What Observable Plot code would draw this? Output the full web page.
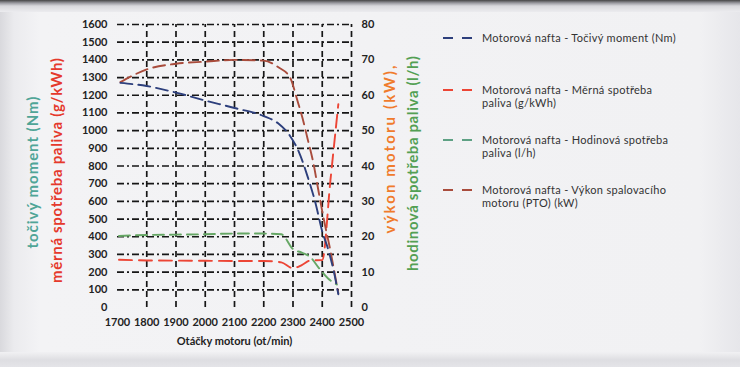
<!DOCTYPE html>
<html><head><meta charset="utf-8">
<script src="https://cdn.jsdelivr.net/npm/d3@7"></script>
<script src="https://cdn.jsdelivr.net/npm/@observablehq/plot@0.6"></script>
<style>
html,body{margin:0;padding:0;}
#wrap{position:relative;width:740px;height:367px;overflow:hidden;
 background:linear-gradient(90deg,#d9d9dd 0px,#ebebee 14px,#f3f3f5 40px,#f1f1f3 700px,#e6e6ea 740px);
 font-family:Lato,"Open Sans",sans-serif;}
#topband{position:absolute;left:0;top:0;width:740px;height:12px;background:linear-gradient(180deg,#444 0px,#9a9aa0 3px,#d8d8dc 6px,#ececef 12px);}
#botband{position:absolute;left:0;top:352px;width:740px;height:15px;background:linear-gradient(180deg,#f1f1f3 0px,#dedee2 8px,#e4e4e8 15px);}
#legend{position:absolute;left:0;top:0;width:740px;height:367px;pointer-events:none;}
.lg{position:absolute;left:482px;font-size:11px;letter-spacing:0.3px;line-height:13px;color:#333;white-space:nowrap;}
svg.plot{position:absolute;left:0;top:0;}
</style></head><body>
<div id="wrap"><div id="topband"></div><div id="botband"></div><div id="chart"></div><div id="legend"></div></div>
<script>
// ----- data -----
const xTicks = [1700,1800,1900,2000,2100,2200,2300,2400,2500];
const leftTicks = [0,100,200,300,400,500,600,700,800,900,1000,1100,1200,1300,1400,1500,1600];
const rightTicks = [0,10,20,30,40,50,60,70,80];

const torqueRpm = [1710,1800,1900,2000,2100,2200,2250,2290,2320,2350,2377,2400,2420,2440,2455];
const torqueNm  = [1270,1252,1215,1170,1128,1082,1040,970,880,740,590,430,330,200,75];

const sfcRpm   = [1705,1800,1900,2000,2100,2200,2260,2300,2330,2360,2400,2428,2455];
const sfcGkWh  = [270,266,265,264,263,263,255,222,240,266,268,720,1150];

const fuelRpm  = [1705,1800,1900,2000,2100,2200,2260,2300,2330,2360,2390,2420,2450];
const fuelLh   = [20.2,20.5,20.6,20.7,20.9,20.9,20.7,16.5,15.5,14.2,11,8.2,6.5];

const powerRpm = [1710,1800,1900,2000,2100,2200,2250,2290,2315,2332,2349,2370,2387,2404,2428,2445,2455];
const powerKw  = [63.7,67.3,68.9,69.5,70,69.8,67.9,65,58.5,53.7,48,40.7,33,25.5,16,8.5,4];

const legendLabels = [
  ["Motorová nafta - Točivý moment (Nm)"],
  ["Motorová nafta -  Měrná spotřeba", "paliva (g/kWh)"],
  ["Motorová nafta - Hodinová spotřeba", "paliva  (l/h)"],
  ["Motorová nafta - Výkon spalovacího", "motoru (PTO) (kW)"]
];
const colors = {torque:"#2d3f7c", sfc:"#ec4535", fuel:"#66a765", power:"#a94c3c"};
const legendColors = ["#2d3f7c","#ec4535","#5ea184","#a94c3c"];

// right axis (kW, l/h) shares the left scale: 80 ↔ 1600
const ratio = 1600 / 80;

const toRows = (xs, ys, k=1) => xs.map((x,i)=>({x, y: ys[i]*k}));
const torque = toRows(torqueRpm, torqueNm);
const sfc = toRows(sfcRpm, sfcGkWh);
const fuel = toRows(fuelRpm, fuelLh, ratio);
const power = toRows(powerRpm, powerKw, ratio);

const hGrid = leftTicks.filter(t => t > 0);
const vGrid = xTicks.filter(t => t > 1700);

const grid = "#161616";
const lineOpts = (c, dash) => ({x:"x", y:"y", stroke:c, strokeWidth:1.9, strokeDasharray:dash, curve:"monotone-x"});
const titleOpts = (fill, dx, dy, anchor, cls) => ({text:d=>d, frameAnchor:anchor, dx, dy, rotate:-90, textAnchor:"middle", lineAnchor:"middle", fill, fontSize:15, fontWeight:"bold", className:cls});

const chart = Plot.plot({
  width:740, height:367,
  marginLeft:117, marginRight:389, marginTop:24, marginBottom:60,
  style:{background:"transparent", fontFamily:"Lato, 'Open Sans', sans-serif"},
  x:{domain:[1700,2500]},
  y:{domain:[0,1600]},
  marks:[
    Plot.ruleY(hGrid, {x1:1700, x2:2500, stroke:grid, strokeWidth:1.7, strokeDasharray:"7,3,2,3"}),
    Plot.ruleX(vGrid, {y1:0, y2:1600, stroke:grid, strokeWidth:1.7, strokeDasharray:"6,4"}),
    Plot.axisX(xTicks, {tickSize:0, tickPadding:11, fontSize:11, fontWeight:"bold", fill:"#222", label:null, tickFormat:d=>String(d)}),
    Plot.axisY(leftTicks, {anchor:"left", tickSize:0, tickPadding:10, fontSize:11, fontWeight:"bold", fill:"#222", label:null, tickFormat:d=>String(d)}),
    Plot.axisY(rightTicks.map(t => t*ratio), {anchor:"right", tickSize:0, tickPadding:10, fontSize:11, fontWeight:"bold", fill:"#222", label:null, tickFormat: d => String(d/ratio)}),
    Plot.line(fuel, lineOpts(colors.fuel, "11,6")),
    Plot.line(sfc, lineOpts(colors.sfc, "13,7")),
    Plot.line(power, lineOpts(colors.power, "12,6")),
    Plot.line(torque, lineOpts(colors.torque, "12,6")),
    Plot.text(["točivý moment (Nm)"], titleOpts("#4fa597", -84, 148, "top-left", "t-teal")),
    Plot.text(["měrná spotřeba paliva (g/kWh)"], titleOpts("#e5392c", -60, 146, "top-left", "t-red")),
    Plot.text(["výkon motoru (kW),"], titleOpts("#f07b2c", 39, 125, "top-right", "t-orange")),
    Plot.text(["hodinová spotřeba paliva (l/h)"], titleOpts("#53a053", 62, 139, "top-right", "t-green")),
    Plot.text(["Otáčky motoru (ot/min)"], {text:d=>d, frameAnchor:"bottom", dy:37, fill:"#222", fontSize:11, fontWeight:"bold"})
  ]
});
// stretch rotated axis titles to the reference's lengths
[["t-teal",152],["t-red",225],["t-orange",168],["t-green",215]].forEach(([c,len]) => {
  d3.select(chart).selectAll("." + c + " text").attr("textLength", len).attr("lengthAdjust", "spacing");
});
document.getElementById("chart").append(chart);

// legend
const legendY = [38, 90, 140, 190];
const lg = document.getElementById("legend");
const ns = "http://www.w3.org/2000/svg";
const lsvg = document.createElementNS(ns, "svg");
lsvg.setAttribute("width", 740); lsvg.setAttribute("height", 367);
lsvg.style.position = "absolute"; lsvg.style.left = "0"; lsvg.style.top = "0";
legendLabels.forEach((lines, i) => {
  const y = legendY[i];
  const l = document.createElementNS(ns, "line");
  l.setAttribute("x1", 443); l.setAttribute("x2", 474);
  l.setAttribute("y1", y); l.setAttribute("y2", y);
  l.setAttribute("stroke", legendColors[i]); l.setAttribute("stroke-width", 2);
  l.setAttribute("stroke-dasharray", "10,9");
  lsvg.append(l);
  const div = document.createElement("div");
  div.className = "lg";
  div.style.top = (y - 7) + "px";
  div.innerHTML = lines.join("<br>");
  lg.append(div);
});
lg.prepend(lsvg);
</script>
</body></html>
